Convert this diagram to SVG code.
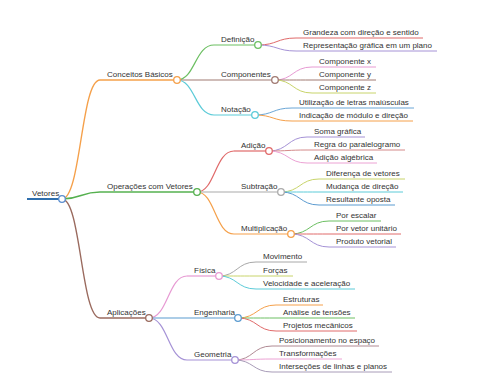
<svg xmlns="http://www.w3.org/2000/svg" width="480" height="384" viewBox="0 0 480 384">
<style>
text{font-family:"Liberation Sans",Arial,sans-serif;font-size:8px;fill:#333}
path,line{fill:none}
circle{fill:#fff;stroke-width:1.3}
.l1{stroke-width:1.4}
.l2{stroke-width:1.2}
.l3{stroke-width:1}
</style>
<rect width="480" height="384" fill="#fff"/>
<g id="connectors">
<path class="l1" stroke="#f5a04a" d="M62 199 C81 199 81 80 100 80"/>
<path class="l1" stroke="#55b04f" d="M62 199 C81 199 81 192 100 192"/>
<path class="l1" stroke="#9a6a5e" d="M62 199 C81 199 81 318 100 318"/>
<path class="l2" stroke="#6cbf62" d="M177 80 C195 80 195 45 214 45"/>
<path class="l2" stroke="#a07a72" d="M177 80 C195 80 195 80 214 80"/>
<path class="l2" stroke="#5ccbd8" d="M177 115 M177 80 C195 80 195 115 214 115"/>
<path class="l2" stroke="#e06a6a" d="M197 192 C215 192 215 151 234 151"/>
<path class="l2" stroke="#aaaaaa" d="M197 192 C215 192 215 192 234 192"/>
<path class="l2" stroke="#f5a04a" d="M197 192 C215 192 215 234 234 234"/>
<path class="l2" stroke="#e79ad3" d="M149 318 C168 318 168 276 187 276"/>
<path class="l2" stroke="#5b9bd0" d="M149 318 C168 318 168 318 187 318"/>
<path class="l2" stroke="#a592d6" d="M149 318 C168 318 168 360 187 360"/>
<path class="l3" stroke="#e06a6a" d="M258 45 C277 45 277 38 296 38"/>
<path class="l3" stroke="#a592d6" d="M258 45 C277 45 277 51 296 51"/>
<path class="l3" stroke="#e79ad3" d="M275 80 C293 80 293 67 312 67"/>
<path class="l3" stroke="#a07a72" d="M275 80 C293 80 293 80 312 80"/>
<path class="l3" stroke="#c8d46a" d="M275 80 C293 80 293 93 312 93"/>
<path class="l3" stroke="#6aa6d6" d="M255 115 C273 115 273 108 292 108"/>
<path class="l3" stroke="#f5a04a" d="M255 115 C273 115 273 121 292 121"/>
<path class="l3" stroke="#a592d6" d="M269 151 C288 151 288 137 307 137"/>
<path class="l3" stroke="#d48a8a" d="M269 151 C288 151 288 150 307 150"/>
<path class="l3" stroke="#eca2d4" d="M269 151 C288 151 288 163 307 163"/>
<path class="l3" stroke="#c8d46a" d="M281 192 C300 192 300 179 319 179"/>
<path class="l3" stroke="#5ccbd8" d="M281 192 C300 192 300 192 319 192"/>
<path class="l3" stroke="#5b9bd0" d="M281 192 C300 192 300 205 319 205"/>
<path class="l3" stroke="#6cbf62" d="M291 234 C310 234 310 221 329 221"/>
<path class="l3" stroke="#e06a6a" d="M291 234 C310 234 310 234 329 234"/>
<path class="l3" stroke="#a592d6" d="M291 234 C310 234 310 247 329 247"/>
<path class="l3" stroke="#a8a8a8" d="M219 276 C237 276 237 262 256 262"/>
<path class="l3" stroke="#c8d46a" d="M219 276 C237 276 237 276 256 276"/>
<path class="l3" stroke="#5ccbd8" d="M219 276 C237 276 237 289 256 289"/>
<path class="l3" stroke="#f5a04a" d="M238 318 C257 318 257 305 276 305"/>
<path class="l3" stroke="#6cbf62" d="M238 318 C257 318 257 318 276 318"/>
<path class="l3" stroke="#e06a6a" d="M238 318 C257 318 257 331 276 331"/>
<path class="l3" stroke="#b08a94" d="M235 360 C253 360 253 346 272 346"/>
<path class="l3" stroke="#eca2d4" d="M235 360 C253 360 253 359 272 359"/>
<path class="l3" stroke="#a89cb8" d="M235 360 C253 360 253 372 272 372"/>
</g>
<g id="n-vetores"><line x1="27" y1="199" x2="59" y2="199" stroke="#2f6fad" stroke-width="2"/><circle cx="62" cy="199" r="3.3" stroke="#5a8ed0"/><text x="32" y="196">Vetores</text></g>
<g id="n-conceitos"><line class="l1" x1="100" y1="80" x2="174" y2="80" stroke="#f5a04a"/><circle cx="177" cy="80" r="3.3" stroke="#f5a04a"/><text x="107" y="77">Conceitos Básicos</text></g>
<g id="n-operacoes"><line class="l1" x1="100" y1="192" x2="194" y2="192" stroke="#55b04f"/><circle cx="197" cy="192" r="3.3" stroke="#55b04f"/><text x="107" y="189">Operações com Vetores</text></g>
<g id="n-aplicacoes"><line class="l1" x1="100" y1="318" x2="146" y2="318" stroke="#9a6a5e"/><circle cx="149" cy="318" r="3.3" stroke="#9a6a5e"/><text x="107" y="315">Aplicações</text></g>
<g id="n-definicao"><line class="l2" x1="214" y1="45" x2="255" y2="45" stroke="#6cbf62"/><circle cx="258" cy="45" r="3.3" stroke="#6cbf62"/><text x="221" y="42">Definição</text></g>
<g id="n-componentes"><line class="l2" x1="214" y1="80" x2="272" y2="80" stroke="#a07a72"/><circle cx="275" cy="80" r="3.3" stroke="#a07a72"/><text x="221" y="77">Componentes</text></g>
<g id="n-notacao"><line class="l2" x1="214" y1="115" x2="252" y2="115" stroke="#5ccbd8"/><circle cx="255" cy="115" r="3.3" stroke="#5ccbd8"/><text x="221" y="112">Notação</text></g>
<g id="n-adicao"><line class="l2" x1="234" y1="151" x2="266" y2="151" stroke="#e06a6a"/><circle cx="269" cy="151" r="3.3" stroke="#e06a6a"/><text x="241" y="148">Adição</text></g>
<g id="n-subtracao"><line class="l2" x1="234" y1="192" x2="278" y2="192" stroke="#aaaaaa"/><circle cx="281" cy="192" r="3.3" stroke="#aaaaaa"/><text x="241" y="189">Subtração</text></g>
<g id="n-multiplicacao"><line class="l2" x1="234" y1="234" x2="288" y2="234" stroke="#f5a04a"/><circle cx="291" cy="234" r="3.3" stroke="#f5a04a"/><text x="241" y="231">Multiplicação</text></g>
<g id="n-fisica"><line class="l2" x1="187" y1="276" x2="216" y2="276" stroke="#e79ad3"/><circle cx="219" cy="276" r="3.3" stroke="#e79ad3"/><text x="194" y="273">Física</text></g>
<g id="n-engenharia"><line class="l2" x1="187" y1="318" x2="235" y2="318" stroke="#5b9bd0"/><circle cx="238" cy="318" r="3.3" stroke="#5b9bd0"/><text x="194" y="315">Engenharia</text></g>
<g id="n-geometria"><line class="l2" x1="187" y1="360" x2="232" y2="360" stroke="#a592d6"/><circle cx="235" cy="360" r="3.3" stroke="#a592d6"/><text x="194" y="357">Geometria</text></g>
<g id="n-grandeza"><line class="l3" x1="296" y1="38" x2="423" y2="38" stroke="#e06a6a"/><text x="303" y="35">Grandeza com direção e sentido</text></g>
<g id="n-representacao"><line class="l3" x1="296" y1="51" x2="437" y2="51" stroke="#a592d6"/><text x="303" y="48">Representação gráfica em um plano</text></g>
<g id="n-compx"><line class="l3" x1="312" y1="67" x2="376" y2="67" stroke="#e79ad3"/><text x="319" y="64">Componente x</text></g>
<g id="n-compy"><line class="l3" x1="312" y1="80" x2="376" y2="80" stroke="#a07a72"/><text x="319" y="77">Componente y</text></g>
<g id="n-compz"><line class="l3" x1="312" y1="93" x2="376" y2="93" stroke="#c8d46a"/><text x="319" y="90">Componente z</text></g>
<g id="n-utilizacao"><line class="l3" x1="292" y1="108" x2="414" y2="108" stroke="#6aa6d6"/><text x="299" y="105">Utilização de letras maiúsculas</text></g>
<g id="n-indicacao"><line class="l3" x1="292" y1="121" x2="413" y2="121" stroke="#f5a04a"/><text x="299" y="118">Indicação de módulo e direção</text></g>
<g id="n-soma"><line class="l3" x1="307" y1="137" x2="365" y2="137" stroke="#a592d6"/><text x="314" y="134">Soma gráfica</text></g>
<g id="n-regra"><line class="l3" x1="307" y1="150" x2="405" y2="150" stroke="#d48a8a"/><text x="314" y="147">Regra do paralelogramo</text></g>
<g id="n-algebrica"><line class="l3" x1="307" y1="163" x2="377" y2="163" stroke="#eca2d4"/><text x="314" y="160">Adição algébrica</text></g>
<g id="n-diferenca"><line class="l3" x1="319" y1="179" x2="405" y2="179" stroke="#c8d46a"/><text x="326" y="176">Diferença de vetores</text></g>
<g id="n-mudanca"><line class="l3" x1="319" y1="192" x2="403" y2="192" stroke="#5ccbd8"/><text x="326" y="189">Mudança de direção</text></g>
<g id="n-resultante"><line class="l3" x1="319" y1="205" x2="395" y2="205" stroke="#5b9bd0"/><text x="326" y="202">Resultante oposta</text></g>
<g id="n-escalar"><line class="l3" x1="329" y1="221" x2="381" y2="221" stroke="#6cbf62"/><text x="336" y="218">Por escalar</text></g>
<g id="n-unitario"><line class="l3" x1="329" y1="234" x2="401" y2="234" stroke="#e06a6a"/><text x="336" y="231">Por vetor unitário</text></g>
<g id="n-produto"><line class="l3" x1="329" y1="247" x2="396" y2="247" stroke="#a592d6"/><text x="336" y="244">Produto vetorial</text></g>
<g id="n-movimento"><line class="l3" x1="256" y1="262" x2="307" y2="262" stroke="#a8a8a8"/><text x="263" y="259">Movimento</text></g>
<g id="n-forcas"><line class="l3" x1="256" y1="276" x2="293" y2="276" stroke="#c8d46a"/><text x="263" y="273">Forças</text></g>
<g id="n-velocidade"><line class="l3" x1="256" y1="289" x2="355" y2="289" stroke="#5ccbd8"/><text x="263" y="286">Velocidade e aceleração</text></g>
<g id="n-estruturas"><line class="l3" x1="276" y1="305" x2="323" y2="305" stroke="#f5a04a"/><text x="283" y="302">Estruturas</text></g>
<g id="n-analise"><line class="l3" x1="276" y1="318" x2="355" y2="318" stroke="#6cbf62"/><text x="283" y="315">Análise de tensões</text></g>
<g id="n-projetos"><line class="l3" x1="276" y1="331" x2="357" y2="331" stroke="#e06a6a"/><text x="283" y="328">Projetos mecânicos</text></g>
<g id="n-posicionamento"><line class="l3" x1="272" y1="346" x2="379" y2="346" stroke="#b08a94"/><text x="279" y="343">Posicionamento no espaço</text></g>
<g id="n-transformacoes"><line class="l3" x1="272" y1="359" x2="342" y2="359" stroke="#eca2d4"/><text x="279" y="356">Transformações</text></g>
<g id="n-intersecoes"><line class="l3" x1="272" y1="372" x2="392" y2="372" stroke="#a89cb8"/><text x="279" y="369">Interseções de linhas e planos</text></g>
</svg>
